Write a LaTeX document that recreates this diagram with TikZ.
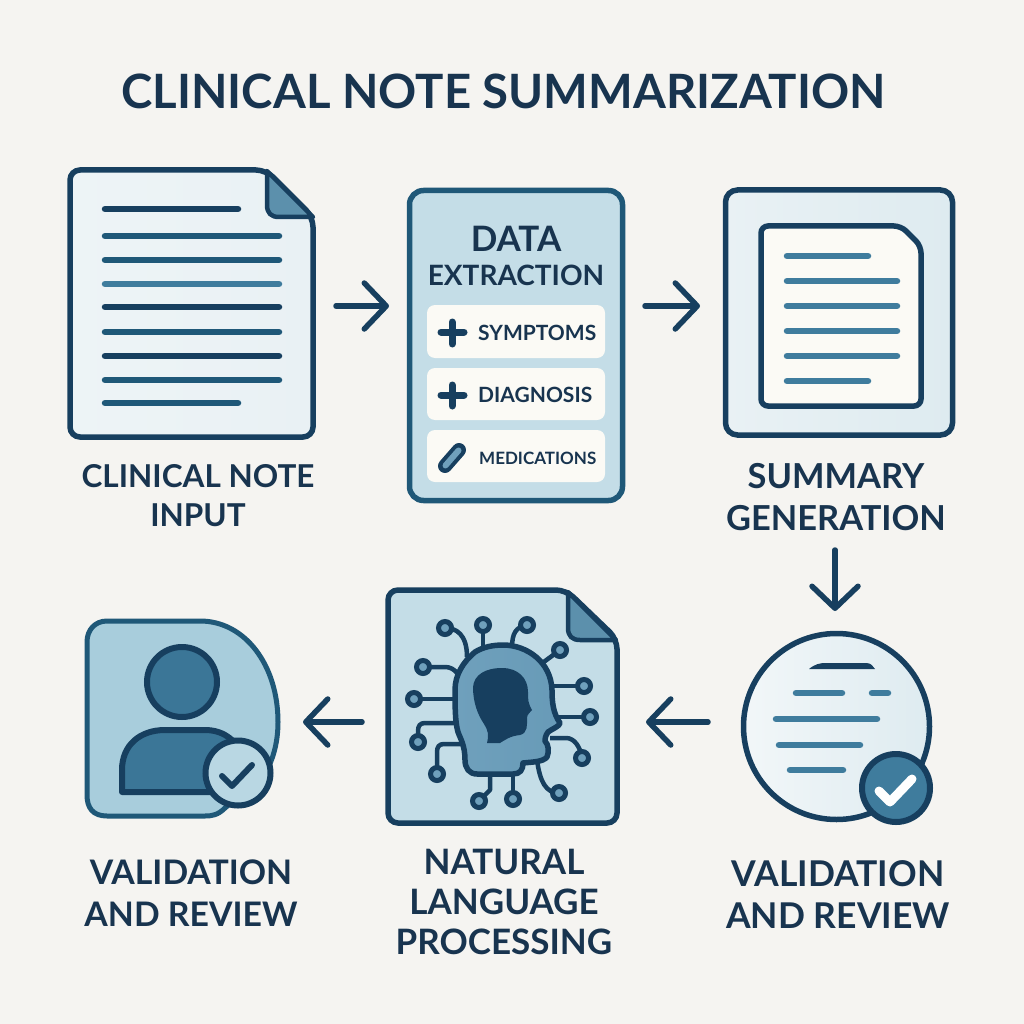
\documentclass[tikz,border=0pt]{standalone}
\usepackage{fontspec}
\setmainfont{Lato}
\usetikzlibrary{arrows.meta,calc}
\definecolor{paper}{HTML}{F5F4F1}
\definecolor{navy}{HTML}{173F5F}
\definecolor{ink}{HTML}{18344F}
\definecolor{steel}{HTML}{3F7C9D}
\definecolor{mid}{HTML}{6FA0BC}
\definecolor{pale}{HTML}{C4DDE7}
\definecolor{paler}{HTML}{E9F1F4}
\definecolor{sky}{HTML}{A8CDDC}
\definecolor{cream}{HTML}{FBFAF5}
\definecolor{teal}{HTML}{1F5878}
\tikzset{
 lbl/.style={font=\bfseries\fontsize{32}{40}\selectfont,text=ink,align=center,inner sep=0pt},
 flow/.style={draw=navy,line width=5.5pt,line cap=round,-{Straight Barb[length=22pt,width=46pt,round,line width=5.5pt]}},
 txl/.style={line width=6.5pt,line cap=round,draw=steel},
 chip/.style={draw=none,fill=cream,rounded corners=8pt},
 chiptxt/.style={font=\bfseries\fontsize{21}{24}\selectfont,text=ink,inner sep=0pt,anchor=west},
 wire/.style={draw=navy,line width=4.5pt,line join=round},
 pin/.style={circle,draw=navy,line width=5pt,fill=mid,minimum size=13pt,inner sep=0pt},
}
\begin{document}
\begin{tikzpicture}[x=1pt,y=-1pt]
\useasboundingbox (0,0) rectangle (1024,1024);
\fill[paper] (0,0) rectangle (1024,1024);
\node[inner sep=0pt,font=\bfseries\fontsize{47.3}{60}\selectfont,text=ink] (title) at (503.5,91) {CLINICAL NOTE SUMMARIZATION};

% --- input document
\path[left color=paler!80!white,right color=paler,draw=navy,line width=5.5pt,rounded corners=10pt]
 (70,170) -- (266,170) -- (313,217) -- (313,437) -- (70,437) -- cycle;
\filldraw[fill=steel!85,draw=navy,line width=4.5pt,line join=round] (267,171) -- (267,205) .. controls (267,213) and (271,217) .. (279,217) -- (313,217) -- cycle;
\coordinate (input) at (191,303);
\foreach \xa/\xb/\y/\c in {105/238/209/navy,105/279/236/teal,105/279/260/teal,105/279/284/steel,105/279/307/navy,105/279/332/teal,105/279/356/navy,105/279/380/teal,105/238/403/teal}
  \draw[txl,draw=\c] (\xa,\y) -- (\xb,\y);
\node[lbl,font=\bfseries\fontsize{31.5}{39}\selectfont] (inputlbl) at (198,496) {CLINICAL NOTE\\INPUT};

% --- data extraction
\node[draw=teal,fill=pale,line width=5.5pt,rounded corners=14pt,minimum width=213pt,minimum height=310pt,inner sep=0pt] (extract) at (516,345.5) {};
\node[lbl,font=\bfseries\fontsize{35}{36}\selectfont] (d1) at (516,239) {DATA};
\node[lbl,font=\bfseries\fontsize{28}{36}\selectfont] (d2) at (516,275) {EXTRACTION};
\node[chip,minimum width=178pt,minimum height=53pt,inner sep=0pt] (c1) at (516,331.5) {};
\node[chip,minimum width=178pt,minimum height=52pt,inner sep=0pt] (c2) at (516,394) {};
\node[chip,minimum width=178pt,minimum height=52pt,inner sep=0pt] (c3) at (516,456) {};
\draw[navy,line width=7pt,line cap=round] (441,332) -- (464,332) (452,322) -- (452,344);
\draw[navy,line width=7pt,line cap=round] (441,395) -- (464,395) (452,385) -- (452,406);
\draw[navy,line width=14pt,line cap=round] (445,466) -- (459,450);
\draw[mid,line width=6pt,line cap=round] (445.5,465.5) -- (458.5,450.5);
\node[chiptxt] (s1) at (478,333) {SYMPTOMS};
\node[chiptxt] (s2) at (478,395) {DIAGNOSIS};
\node[chiptxt,font=\bfseries\fontsize{17}{24}\selectfont] (s3) at (479,458) {MEDICATIONS};

% --- summary generation
\node[draw=navy,left color=paler,right color=paler!70!pale,line width=5.5pt,rounded corners=12pt,minimum width=227pt,minimum height=245pt,inner sep=0pt] (summary) at (839,312.5) {};
\path[fill=cream,draw=navy,line width=5.5pt,rounded corners=7pt]
 (761,226) -- (901,226) -- (921,246) -- (921,406) -- (761,406) -- cycle;
\foreach \xa/\xb/\y in {787/868/256,787/897/281,787/897/306,787/897/331,787/897/356,787/868/381}
  \draw[txl] (\xa,\y) -- (\xb,\y);
\node[lbl,font=\bfseries\fontsize{34.4}{42}\selectfont] (sumlbl) at (836,497) {SUMMARY\\GENERATION};

% --- review circle
\node[circle,draw=navy,left color=paler!60!white,right color=paler!70!pale,line width=5.5pt,minimum size=186pt,inner sep=0pt] (review) at (836.5,726.5) {};
\fill[navy] (809,669) .. controls (815,664) and (820,663) .. (826,663) -- (866,663) .. controls (871,663) and (873,666) .. (875,669) -- cycle;
\foreach \xa/\xb/\y in {796/842/693,872/888/693,776/877/719,779/860/745,790/843/770}
  \draw[txl] (\xa,\y) -- (\xb,\y);
\node[circle,draw=navy,fill=steel,line width=6pt,minimum size=68pt,inner sep=0pt] (badge1) at (896,788) {};
\draw[white,line width=9pt,line cap=round,line join=round] (879,791) -- (890,802) -- (912,779);
\node[lbl,font=\bfseries\fontsize{35.5}{42}\selectfont] (rv1) at (838,895) {VALIDATION\\AND REVIEW};

% --- NLP page
\path[fill=pale,draw=navy,line width=5.5pt,rounded corners=10pt]
 (388,590) -- (566,590) -- (617,639) -- (617,823) -- (388,823) -- cycle;
\filldraw[fill=steel!85,draw=navy,line width=4.5pt,line join=round] (568,592) -- (568,628) .. controls (568,636) and (572,640) .. (580,640) -- (616,640) -- cycle;
% wires
\draw[wire] (445,628) .. controls (456,628) and (467,634) .. (467,657);
\draw[wire] (483,625) -- (483,650);
\draw[wire] (527,625) .. controls (516,627) and (512,633) .. (512,648);
\draw[wire] (560,650) -- (541,664);
\draw[wire] (553,686) -- (584,686);
\draw[wire] (557,717) -- (590,717);
\draw[wire] (550,738) -- (566,738) .. controls (574,738) and (580,746) .. (582,758);
\draw[wire] (537,760) .. controls (540,782) and (546,793) .. (559,793);
\draw[wire] (513,770) -- (513,799);
\draw[wire] (490,770) -- (490,790) -- (479,801);
\draw[wire] (467,744) -- (444,744) .. controls (439,744) and (437,747) .. (437,752) -- (437,774);
\draw[wire] (460,723) -- (425,723) .. controls (420,723) and (418,726) .. (418,731) -- (418,742);
\draw[wire] (456,699) -- (414,699);
\draw[wire] (458,674) .. controls (454,669) and (450,667) .. (445,667) -- (423,667);
% head
\path[left color=mid,right color=mid!85!steel,draw=navy,line width=5.5pt,line join=round]
 (455,690) .. controls (455,675) and (463,662) .. (475,652)
 .. controls (483,647) and (493,645) .. (503,645)
 .. controls (527,645) and (551,662) .. (552,690)
 .. controls (552,702) and (553,713) .. (560,723)
 .. controls (560,726) and (552,729) .. (548,732)
 .. controls (545,736) and (545,740) .. (545,741)
 .. controls (549,745) and (549,752) .. (547,757)
 .. controls (543,762) and (532,762) .. (523,763)
 .. controls (523,770) and (520,774) .. (513,774)
 -- (477,774) .. controls (469,774) and (465,768) .. (465,760)
 .. controls (465,745) and (460,738) .. (458,732)
 .. controls (455,722) and (455,705) .. (455,690) -- cycle;
\fill[navy]
 (487,743) .. controls (489,735) and (488,730) .. (484,724)
 .. controls (478,715) and (473,703) .. (473,687)
 .. controls (474,675) and (485,668) .. (502,668)
 .. controls (518,668) and (528,678) .. (528,692)
 .. controls (528,700) and (528,703) .. (532,710)
 .. controls (530,713) and (527,714) .. (527,718)
 .. controls (527,725) and (528,733) .. (520,735)
 .. controls (510,736) and (505,740) .. (500,743) -- cycle;
\coordinate (nlp) at (503,706);
\foreach \n/\x/\y in {p1/445/628,p2/483/625,p3/527/625,p4/560/650,p5/584/686,p6/590/717,p7/582/758,p8/559/793,p9/513/799,p10/479/801,p11/437/774,p12/418/742,p13/414/699,p14/423/667}
  \node[pin] (\n) at (\x,\y) {};
\node[lbl,font=\bfseries\fontsize{35}{40}\selectfont] (nlplbl) at (504,902) {NATURAL\\LANGUAGE\\PROCESSING};

% --- person card
\path[fill=sky,draw=teal,line width=5pt]
 (107,621) -- (200,621) .. controls (245,621) and (278,665) .. (278,722)
 .. controls (278,755) and (265,785) .. (240,795)
 -- (225,808) .. controls (218,815) and (212,816) .. (205,816)
 -- (107,816) .. controls (93,816) and (87,808) .. (87,795) -- (87,642) .. controls (87,630) and (95,621) .. (107,621) -- cycle;
\node[circle,draw=navy,fill=steel!90!navy,line width=6pt,minimum size=70pt,inner sep=0pt] (head) at (182,682) {};
\path[fill=steel!90!navy,draw=navy,line width=6pt,line join=round]
 (122,792) -- (122,770) .. controls (122,745) and (140,730) .. (165,730) -- (205,730) .. controls (225,730) and (238,742) .. (245,760) -- (245,792) -- cycle;
\node[circle,draw=navy,fill=sky!80!white,line width=6pt,minimum size=65pt,inner sep=0pt] (badge2) at (238,773) {};
\draw[navy,line width=6pt,line cap=round,line join=round] (222,776) -- (232,786) -- (252,765);
\node[lbl,font=\bfseries\fontsize{33.8}{42}\selectfont] (rv2) at (191,893) {VALIDATION\\AND REVIEW};

% --- flow
\coordinate (a1s) at (336,306); \coordinate (a1e) at (389,306);
\coordinate (a2s) at (645,306); \coordinate (a2e) at (700,306);
\coordinate (a3s) at (835,550); \coordinate (a3e) at (835,611);
\coordinate (a4s) at (708,722); \coordinate (a4e) at (646,722);
\coordinate (a5s) at (362,722); \coordinate (a5e) at (303,722);
\draw[flow] (a1s) -- (a1e);
\draw[flow] (a2s) -- (a2e);
\draw[flow] (a3s) -- (a3e);
\draw[flow] (a4s) -- (a4e);
\draw[flow] (a5s) -- (a5e);
\end{tikzpicture}
\end{document}
